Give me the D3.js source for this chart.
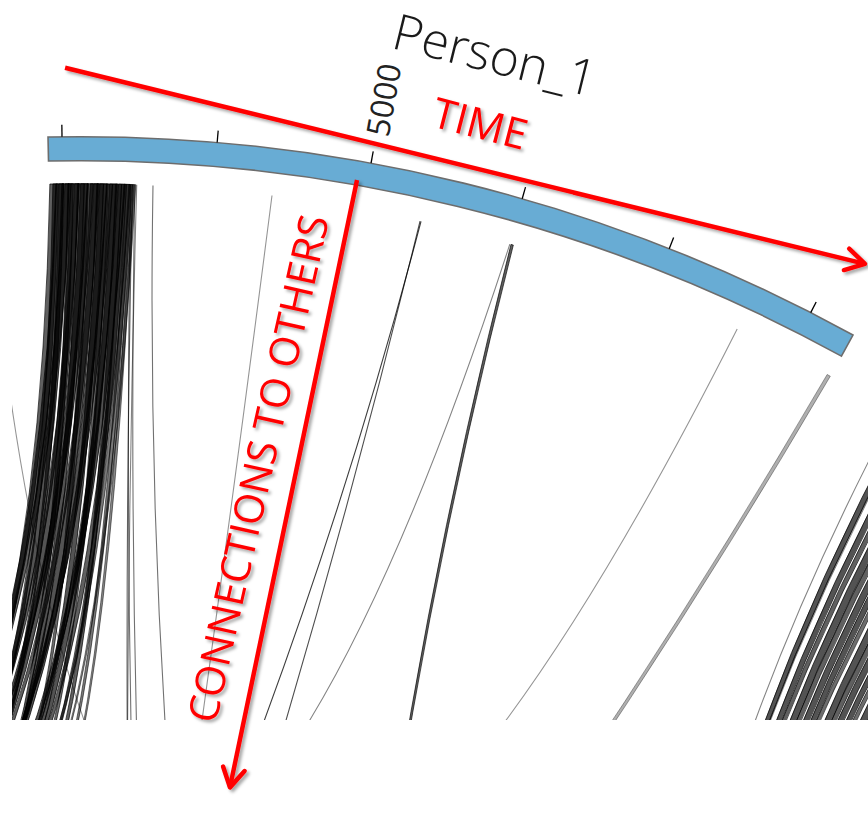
<!DOCTYPE html>
<html>
<head>
<meta charset="utf-8">
<script src="https://cdn.jsdelivr.net/npm/d3@7"></script>
<style>
  html, body { margin: 0; background: #fff; }
  svg { display: block; }
  text { font-family: "Open Sans", "Noto Sans", sans-serif; }
</style>
</head>
<body>
<svg id="chart" width="868" height="826"></svg>
<script>
// ---- Person_1 track -------------------------------------------------------
const segmentName = "Person_1";
const segmentExtent = [-225, 13270];          // time span of the Person_1 ideogram
const tickValues = [0, 2500, 5000, 7500, 10000, 12500];
const labelledTicks = [5000];

// Connections leaving Person_1: [time, target angle on the wheel (deg), duration, messages]
const bundleLinks = [
  [-210, 322, 110, 9], [-160, 330, 90, 9], [-110, 316, 130, 10], [-60, 334, 80, 9],
  [-10, 325, 120, 10], [40, 312, 100, 9], [90, 338, 90, 10], [140, 328, 130, 10],
  [200, 320, 80, 9], [250, 336, 110, 10], [300, 326, 120, 10], [360, 342, 70, 8],
  [410, 318, 100, 10], [460, 332, 130, 10], [520, 324, 90, 9], [570, 340, 110, 10],
  [620, 330, 120, 10], [680, 344, 80, 8], [730, 326, 100, 10], [780, 338, 120, 10],
  [830, 334, 90, 9], [880, 346, 100, 9], [930, 330, 110, 10], [980, 342, 80, 8],
  [1020, 336, 100, 9], [1060, 348, 70, 7], [1100, 340, 60, 7], [1140, 350, 50, 6],
  [1175, 344, 40, 6]
];
const singleLinks = [
  [1130, 168, 0, 5], [1160, 172, 0, 6], [1200, 166, 0, 5], [1230, 174, 0, 4],
  [1500, 153, 0, 5],
  [3481, 191, 0, 3],
  [5973, 211, 0, 7], [5990, 229.6, 0, 8],
  [7510, 346, 0, 4], [7530, 164, 40, 9],
  [11538, 356.5, 0, 3],
  [13210, 236, 60, 3]
];
// Connections leaving the neighbouring person: [source angle (deg), target angle (deg), duration (deg), messages]
const neighbourLinks = [
  [31.5, 121.5, 0, 4], [31.9, 112, 0.2, 10], [32.1, 118, 0.05, 5], [32.4, 112, 0.22, 10],
  [32.7, 125, 0.18, 9], [33.0, 108, 0.28, 10], [33.3, 120, 0.2, 9], [33.6, 104, 0.26, 10],
  [33.9, 116, 0.22, 10], [34.2, 128, 0.16, 8], [34.5, 110, 0.28, 10], [34.8, 122, 0.2, 9],
  [35.1, 100, 0.26, 10], [35.4, 114, 0.22, 10], [35.7, 126, 0.16, 8], [36.0, 106, 0.28, 10],
  [36.3, 118, 0.22, 10], [36.6, 98, 0.26, 10], [36.9, 112, 0.22, 10], [37.2, 104, 0.28, 10],
  [37.6, 116, 0.22, 10], [38.0, 100, 0.28, 10], [38.4, 110, 0.26, 10]
];

// ---- geometry -------------------------------------------------------------
const W = 868, H = 826;
const center = [80.6, 1739.7];
const rLink = 1556, rInner = 1579, rOuter = 1603, rTick = 1615;
const kBase = 0.12;                 // pull of the link control point away from the centre
const rad = d => d * Math.PI / 180;

// time on Person_1 -> angle on the wheel (degrees, clockwise from 12 o'clock)
const timeAngle = d3.scaleLinear().domain([0, 12500]).range([-0.665, 27.095]);
const opacity = d3.scaleLinear().domain([1, 10]).range([0.28, 0.9]);

const svg = d3.select("#chart");
const defs = svg.append("defs");
defs.append("clipPath").attr("id", "linkClip")
  .append("rect").attr("x", 12).attr("y", 0).attr("width", W - 12).attr("height", 720);
const shadow = defs.append("filter").attr("id", "shadow")
  .attr("x", "-20%").attr("y", "-20%").attr("width", "140%").attr("height", "140%");
shadow.append("feDropShadow").attr("dx", 2.5).attr("dy", 2.5)
  .attr("stdDeviation", 1.6).attr("flood-color", "#000").attr("flood-opacity", 0.35);
defs.append("marker").attr("id", "head")
  .attr("markerUnits", "userSpaceOnUse").attr("viewBox", "-26 -16 30 32")
  .attr("markerWidth", 30).attr("markerHeight", 32).attr("refX", 0).attr("refY", 0)
  .attr("orient", "auto")
  .append("path").attr("d", "M-19,-11L0,0L-19,11")
  .attr("fill", "none").attr("stroke", "#ff0000").attr("stroke-width", 4.5)
  .attr("stroke-linecap", "round").attr("stroke-linejoin", "round");

const polar = (a, r) => [r * Math.sin(a), -r * Math.cos(a)];
const toPage = ([x, y]) => [x + center[0], y + center[1]];

function control(p, q) {
  let d = q - p;
  while (d > Math.PI) d -= 2 * Math.PI;
  while (d < -Math.PI) d += 2 * Math.PI;
  return polar(p + d / 2, kBase * Math.cos(d / 2) * rLink);
}
function linkPath(s0, s1, t0, t1) {
  const p = d3.path();
  const a = polar(s0, rLink);
  p.moveTo(a[0], a[1]);
  if (s1 === s0) {
    const c = control(s0, t0), e = polar(t0, rLink);
    p.quadraticCurveTo(c[0], c[1], e[0], e[1]);
    return p.toString();
  }
  p.arc(0, 0, rLink, s0 - Math.PI / 2, s1 - Math.PI / 2);
  let c = control(s1, t0), e = polar(t0, rLink);
  p.quadraticCurveTo(c[0], c[1], e[0], e[1]);
  p.arc(0, 0, rLink, t0 - Math.PI / 2, t1 - Math.PI / 2);
  c = control(t1, s0); e = polar(s0, rLink);
  p.quadraticCurveTo(c[0], c[1], e[0], e[1]);
  p.closePath();
  return p.toString();
}

// ---- links ---------------------------------------------------------------
const person1 = links => links.map(([t, target, dur, n]) => {
  const s0 = rad(timeAngle(t)), s1 = rad(timeAngle(t + dur));
  const t0 = rad(target);
  return { d: linkPath(s0, s1, t0, t0 + (s1 - s0)), n, ribbon: dur > 0 };
});
const neighbour = neighbourLinks.map(([s, target, dur, n]) => {
  const s0 = rad(s), s1 = rad(s + dur), t0 = rad(target);
  return { d: linkPath(s0, s1, t0, t0 + (s1 - s0)), n, ribbon: dur > 0 };
});

const linkLayer = svg.append("g").attr("clip-path", "url(#linkClip)")
  .append("g").attr("transform", `translate(${center[0]},${center[1]})`);

function drawLinks(data) {
  linkLayer.append("g").selectAll("path").data(data).join("path")
    .attr("d", d => d.d)
    .attr("fill", d => d.ribbon ? "#000" : "none")
    .attr("fill-opacity", d => opacity(d.n) * 0.75)
    .attr("stroke", "#000")
    .attr("stroke-opacity", d => opacity(d.n))
    .attr("stroke-width", d => d.ribbon ? 0.8 : 1.1);
}
drawLinks(person1(singleLinks));
drawLinks(neighbour);
drawLinks(person1(bundleLinks));

// ---- ideogram, ticks, labels ---------------------------------------------
const track = svg.append("g").attr("transform", `translate(${center[0]},${center[1]})`);
track.append("path")
  .attr("d", d3.arc().innerRadius(rInner).outerRadius(rOuter)
    .startAngle(rad(timeAngle(segmentExtent[0])))
    .endAngle(rad(timeAngle(segmentExtent[1])))())
  .attr("fill", "#68acd4").attr("stroke", "#6d6d6d").attr("stroke-width", 1.6);

track.selectAll("line.tick").data(tickValues).join("line")
  .attr("class", "tick")
  .attr("x1", v => polar(rad(timeAngle(v)), rOuter)[0])
  .attr("y1", v => polar(rad(timeAngle(v)), rOuter)[1])
  .attr("x2", v => polar(rad(timeAngle(v)), rTick)[0])
  .attr("y2", v => polar(rad(timeAngle(v)), rTick)[1])
  .attr("stroke", "#000").attr("stroke-width", 1.3);

track.selectAll("text.ticklabel").data(labelledTicks).join("text")
  .attr("class", "ticklabel")
  .attr("transform", v => {
    const [x, y] = polar(rad(timeAngle(v)), 1631);
    return `translate(${x},${y}) rotate(${timeAngle(v) - 90})`;
  })
  .attr("dominant-baseline", "central")
  .attr("font-size", 32).attr("fill", "#222")
  .text(v => v);

const midAngle = timeAngle((segmentExtent[0] + segmentExtent[1]) / 2);
{
  const [x, y] = polar(rad(midAngle), 1717);
  track.append("text")
    .attr("transform", `translate(${x},${y}) rotate(${midAngle})`)
    .attr("text-anchor", "middle")
    .attr("font-size", 50).attr("font-weight", 300).attr("fill", "#1a1a1a")
    .text(segmentName);
}

// ---- annotation arrows -----------------------------------------------------
const notes = svg.append("g").attr("filter", "url(#shadow)");
const timeFrom = toPage(polar(rad(timeAngle(60)), 1672));
const timeTo = toPage(polar(rad(timeAngle(12950)), 1672));
notes.append("line")
  .attr("x1", timeFrom[0]).attr("y1", timeFrom[1])
  .attr("x2", timeTo[0] - 3).attr("y2", timeTo[1] - 0.8)
  .attr("stroke", "#ff0000").attr("stroke-width", 4.5)
  .attr("marker-end", "url(#head)");
{
  const [x, y] = toPage(polar(rad(timeAngle(5800)), 1651));
  notes.append("text")
    .attr("transform", `translate(${x},${y}) rotate(14.5)`)
    .attr("font-size", 42).attr("fill", "#ff0000").text("TIME");
}
const linkFrom = toPage(polar(rad(timeAngle(4825)), 1584));
const linkTo = toPage(polar(rad(timeAngle(4325)), 961));
notes.append("line")
  .attr("x1", linkFrom[0]).attr("y1", linkFrom[1])
  .attr("x2", linkTo[0]).attr("y2", linkTo[1] - 3)
  .attr("stroke", "#ff0000").attr("stroke-width", 4.5)
  .attr("marker-end", "url(#head)");
{
  const [x, y] = toPage(polar(rad(timeAngle(3713)), 1024));
  notes.append("text")
    .attr("transform", `translate(${x},${y}) rotate(-77.35)`)
    .attr("font-size", 41).attr("fill", "#ff0000").text("CONNECTIONS TO OTHERS");
}
</script>
</body>
</html>
